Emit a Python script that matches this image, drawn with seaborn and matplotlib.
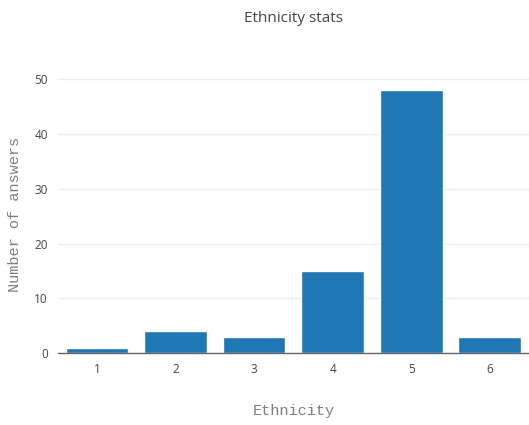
import matplotlib
matplotlib.use("Agg")
import matplotlib.pyplot as plt
import seaborn as sns
import pandas as pd

# values
ethnicity = ["1", "2", "3", "4", "5", "6"]
answers = [1, 4, 3, 15, 48, 3]

df = pd.DataFrame({"ethnicity": ethnicity, "answers": answers})

sns.set_style("white")
plt.rcParams["font.family"] = ["Open Sans", "DejaVu Sans"]

fig = plt.figure(figsize=(5.29, 4.25), dpi=100)
ax = fig.add_axes([0.109, 0.169, 0.891, 0.651])

sns.barplot(data=df, x="ethnicity", y="answers", color="#1f77b4",
            saturation=1, width=0.8, ax=ax)

ax.set_xlim(-0.5, 5.5)
ax.set_ylim(0, 50.5)
ax.set_yticks([0, 10, 20, 30, 40, 50])
ax.yaxis.grid(True, color="#eeeeee", linewidth=1)
ax.set_axisbelow(True)
for s in ax.spines.values():
    s.set_visible(False)
ax.axhline(0, color="#666666", linewidth=1, zorder=3, clip_on=False)
ax.tick_params(axis="both", length=0, labelsize=8.5, labelcolor="#444444", pad=7)

ax.set_xlabel("Ethnicity", family="Liberation Mono", fontsize=11,
              color="#7f7f7f", labelpad=20)
ax.set_ylabel("Number of answers", family="Liberation Mono", fontsize=11,
              color="#7f7f7f", labelpad=9)

fig.text(293 / 529, 1 - 18 / 425, "Ethnicity stats", ha="center", va="center",
         fontsize=11, color="#444444")

fig.savefig("out.png", dpi=100)
